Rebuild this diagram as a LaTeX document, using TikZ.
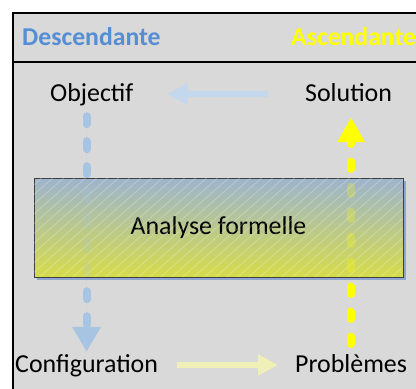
\documentclass[tikz,border=0pt]{standalone}
\usepackage{fontspec}
\setmainfont{Carlito}
\usetikzlibrary{arrows.meta}
\definecolor{bg}{HTML}{D9D9D9}
\definecolor{descblue}{HTML}{558ED5}
\definecolor{ascyellow}{HTML}{FFFF00}
\definecolor{dashblue}{HTML}{A7C5E3}
\definecolor{lightblue}{HTML}{C3D8EC}
\definecolor{paleyellow}{HTML}{EFEFB8}
\definecolor{boxtop}{HTML}{9DB4CE}
\definecolor{boxmid}{HTML}{C2CB88}
\definecolor{boxbot}{HTML}{D6DC4A}
\definecolor{boxline}{HTML}{404040}
\definecolor{shadowc}{HTML}{8EA5D1}
\begin{document}
\begin{tikzpicture}[x=1pt,y=-1pt,
  txt/.style={inner sep=0pt, anchor=base west, font=\fontsize{25.9}{30}\selectfont, text height=19pt, text depth=5pt},
  hdr/.style={txt, font=\fontsize{25.7}{30}\selectfont\bfseries},
  harrow/.style={line width=6pt, -{Triangle[width=20pt,length=20pt]}},
  vdown/.style={draw=dashblue, line width=8pt, line cap=round, dash pattern=on 8pt off 17pt, -{Triangle[width=27pt,length=25pt,line cap=butt]}},
  vup/.style={draw=ascyellow, line width=8.5pt, line cap=round, dash pattern=on 7pt off 18pt, -{Triangle[width=26pt,length=25pt,line cap=butt]}}]
\useasboundingbox (0,0) rectangle (416,389);
\begin{scope}
\clip (0,0) rectangle (416,389);
% frame
\draw[line width=1.3pt, fill=bg] (13,13) rectangle (440,420);
\draw[line width=1.3pt] (13,62) -- (440,62);
% texts
\node[hdr, text=descblue] (desc) at (22,45) {Descendante};
\node[hdr, text=ascyellow] (asc) at (291,45) {Ascendante};
\node[txt] (obj) at (50,101) {Objectif};
\node[txt] (sol) at (305,101) {Solution};
\node[txt] (conf) at (15,372) {Configuration};
\node[txt] (prob) at (295,372) {Problèmes};
% horizontal arrows
\draw[harrow, draw=lightblue, fill=lightblue, shorten <=37pt, shorten >=34pt] (sol.west) -- (obj.east);
\draw[harrow, draw=paleyellow, fill=paleyellow, shorten <=19pt, shorten >=17pt] (conf.east) -- (prob.west);
% vertical dashed arrows
\draw[vdown, fill=dashblue, shorten <=10pt, shorten >=1pt] (obj.south -| conf.north) -- (conf.north);
\draw[vup, fill=ascyellow, shorten <=9pt, shorten >=11pt] (prob.north) -- (prob.north |- sol.south);
% shadow of the box
\fill[shadowc] (37,181) rectangle (406,280);
% box
\node[draw=boxline, line width=0.8pt, minimum width=369pt, minimum height=99pt,
  top color=boxtop, middle color=boxmid, bottom color=boxbot,
  font=\fontsize{25.9}{30}\selectfont, text height=19pt, text depth=5pt, inner sep=0pt]
  (ana) at (218.5,227.5) {Analyse formelle};
% hatch and faint dashes seen through the box
\begin{scope}
\clip ([shift={(0.5,0.5)}]ana.north west) rectangle ([shift={(-0.5,-0.5)}]ana.south east);
\foreach \i in {-140,-129,...,420}
  \draw[white, opacity=0.25, line width=0.8pt] (\i,290) -- ++(130,-115);
\draw[vdown, draw opacity=0.18, fill opacity=0.18, shorten <=10pt, shorten >=1pt] (obj.south -| conf.north) -- (conf.north);
\draw[vup, draw opacity=0.25, fill opacity=0.25, shorten <=9pt, shorten >=11pt] (prob.north) -- (prob.north |- sol.south);
\end{scope}
\end{scope}
\end{tikzpicture}
\end{document}
